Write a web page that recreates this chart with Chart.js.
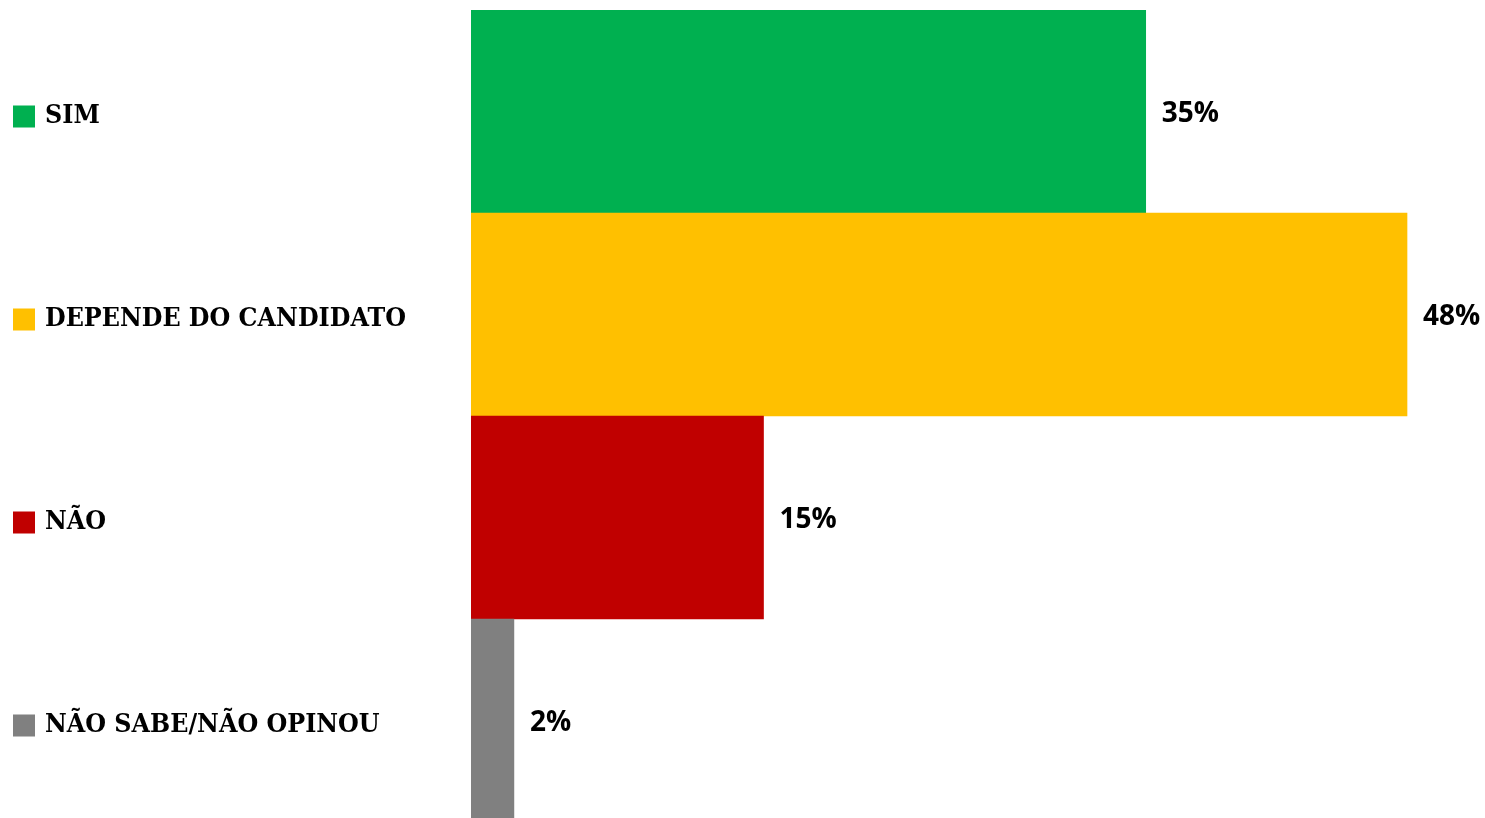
<!DOCTYPE html>
<html>
<head>
<meta charset="utf-8">
<script src="https://cdn.jsdelivr.net/npm/chart.js@4.4.1/dist/chart.umd.min.js"></script>
<style>
html, body { margin: 0; padding: 0; background: #fff; overflow: hidden; }
#wrap { position: relative; width: 1485px; height: 822px; }
</style>
</head>
<body>
<div id="wrap"><canvas id="chart"></canvas></div>
<script>
// data
const categories = ['SIM', 'DEPENDE DO CANDIDATO', 'NÃO', 'NÃO SABE/NÃO OPINOU'];
const values = [34.6, 48, 15, 2.2];
const valueLabels = ['35%', '48%', '15%', '2%'];
const barColors = ['#00B050', '#FFC000', '#C00000', '#808080'];

const valueFont = 'bold 28px "Open Sans", sans-serif';

// colored squares next to the category labels
const squares = {
    id: 'squares',
    afterDraw(chart) {
        const ctx = chart.ctx;
        const y = chart.scales.y;
        ctx.save();
        categories.forEach((c, i) => {
            const py = y.getPixelForTick(i);
            ctx.fillStyle = barColors[i];
            ctx.fillRect(13, py - 6, 22, 22);
        });
        ctx.restore();
    }
};

// percent labels at the end of each bar
const valueText = {
    id: 'valueText',
    afterDatasetsDraw(chart) {
        const ctx = chart.ctx;
        const meta = chart.getDatasetMeta(0);
        ctx.save();
        ctx.font = valueFont;
        ctx.fillStyle = '#000';
        ctx.textAlign = 'left';
        ctx.textBaseline = 'middle';
        meta.data.forEach((bar, i) => {
            ctx.fillText(valueLabels[i], bar.x + 16, bar.y + 3);
        });
        ctx.restore();
    }
};

const ctx = document.getElementById('chart').getContext('2d');
const chart = new Chart(ctx, {
    type: 'bar',
    data: {
        labels: categories,
        datasets: [{
            data: values,
            backgroundColor: barColors,
            borderWidth: 0,
            barPercentage: 1,
            categoryPercentage: 1
        }]
    },
    options: {
        indexAxis: 'y',
        responsive: true,
        maintainAspectRatio: false,
        animation: false,
        layout: { padding: { top: 10, left: 45, right: 0, bottom: 0 } },
        plugins: {
            legend: { display: false },
            tooltip: { enabled: false }
        },
        scales: {
            x: {
                display: false,
                min: 0,
                max: 52
            },
            y: {
                grid: { display: false },
                border: { display: false },
                ticks: {
                    color: '#000',
                    font: { family: '"DejaVu Serif"', size: 26.5, weight: 'bold condensed' },
                    crossAlign: 'far',
                    padding: 0,
                    labelOffset: 5
                },
                afterFit(scale) {
                    scale.width = 426;
                    scale.paddingTop = 0;
                    scale.paddingBottom = 0;
                }
            }
        }
    },
    plugins: [squares, valueText]
});
</script>
</body>
</html>
